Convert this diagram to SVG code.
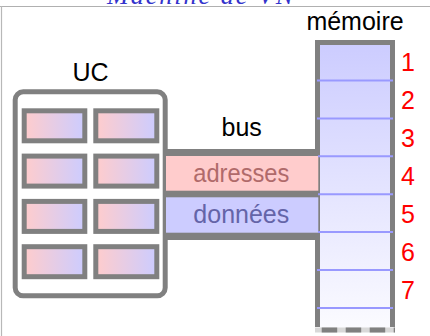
<svg xmlns="http://www.w3.org/2000/svg" width="430" height="336" viewBox="0 0 430 336">
  <defs>
    <linearGradient id="regGrad" x1="0" y1="0" x2="1" y2="0">
      <stop offset="0" stop-color="#ffcccc"/>
      <stop offset="1" stop-color="#ccccff"/>
    </linearGradient>
    <linearGradient id="memGrad" x1="0" y1="0" x2="0" y2="1">
      <stop offset="0" stop-color="#ccccff"/>
      <stop offset="1" stop-color="#fbfbff"/>
    </linearGradient>
    <style>
      .lbl { font-family: "Liberation Sans", Arial, sans-serif; font-size: 25px; fill: #000; text-anchor: middle; }
      .num { font-family: "Liberation Sans", Arial, sans-serif; font-size: 25px; fill: #ff0000; text-anchor: middle; }
      .reg { fill: url(#regGrad); stroke: #808080; stroke-width: 5; }
      .gray { stroke: #808080; fill: none; }
      .cell { stroke: #9999ff; stroke-width: 2; }
    </style>
  </defs>
  <rect width="430" height="336" fill="#ffffff"/>

  <g id="frame">
    <line x1="0" y1="6.5" x2="430" y2="6.5" stroke="#b0b0b0" stroke-width="1.2"/>
    <line x1="1.5" y1="6" x2="1.5" y2="336" stroke="#b8b8b8" stroke-width="1.2"/>
    <text x="107" y="4" font-family="'Liberation Serif', 'Times New Roman', serif" font-style="italic" font-size="26" fill="#3333cc" textLength="186" lengthAdjust="spacing">Machine de VN</text>
  </g>

  <g id="uc">
    <text class="lbl" x="90.5" y="81">UC</text>
    <rect x="15.2" y="91.8" width="150" height="204" rx="8" ry="8" fill="#ffffff" stroke="#808080" stroke-width="5"/>
    <rect class="reg" x="24.2" y="110.8" width="60.6" height="30"/>
    <rect class="reg" x="95.8" y="110.8" width="61" height="30"/>
    <rect class="reg" x="24.2" y="156.1" width="60.6" height="30"/>
    <rect class="reg" x="95.8" y="156.1" width="61" height="30"/>
    <rect class="reg" x="24.2" y="201.4" width="60.6" height="30"/>
    <rect class="reg" x="95.8" y="201.4" width="61" height="30"/>
    <rect class="reg" x="24.2" y="246.7" width="60.6" height="30"/>
    <rect class="reg" x="95.8" y="246.7" width="61" height="30"/>
  </g>

  <g id="memory">
    <text class="lbl" x="355" y="30">mémoire</text>
    <rect x="319" y="44" width="72" height="284" fill="url(#memGrad)"/>
    <path class="gray" d="M317.5,327 V42.5 H392.5 V327" stroke-width="5"/>
    <line x1="315" y1="330" x2="395" y2="330" stroke="#d8d8d8" stroke-width="5"/>
    <line x1="321.7" y1="330" x2="395" y2="330" stroke="#808080" stroke-width="5" stroke-dasharray="15.5 8.5"/>
  </g>

  <g id="connectors">
    <g id="bus">
      <text class="lbl" x="241.7" y="136">bus</text>
      <rect x="165" y="149" width="153" height="91" fill="#808080"/>
      <rect x="166" y="156" width="152.3" height="34.7" fill="#ffcccc"/>
      <rect x="166" y="197.3" width="152.3" height="35.4" fill="#ccccff"/>
      <text class="lbl" x="241.3" y="181.5" fill="#b06a6a" style="fill:#b06a6a" textLength="96" lengthAdjust="spacingAndGlyphs">adresses</text>
      <text class="lbl" x="241.3" y="222.5" style="fill:#6464a8">données</text>
    </g>
  </g>

  <g id="memory-cells">
    <line class="cell" x1="317" y1="80.5" x2="393" y2="80.5"/>
    <line class="cell" x1="317" y1="118.4" x2="393" y2="118.4"/>
    <line class="cell" x1="318" y1="156.3" x2="393" y2="156.3"/>
    <line class="cell" x1="318" y1="194.2" x2="393" y2="194.2"/>
    <line class="cell" x1="318" y1="232.1" x2="393" y2="232.1"/>
    <line class="cell" x1="317" y1="270" x2="393" y2="270"/>
    <line class="cell" x1="317" y1="307.9" x2="393" y2="307.9"/>
    <text class="num" x="408" y="71">1</text>
    <text class="num" x="408" y="109">2</text>
    <text class="num" x="408" y="147">3</text>
    <text class="num" x="408" y="185">4</text>
    <text class="num" x="408" y="223">5</text>
    <text class="num" x="408" y="261">6</text>
    <text class="num" x="408" y="299">7</text>
  </g>
</svg>
